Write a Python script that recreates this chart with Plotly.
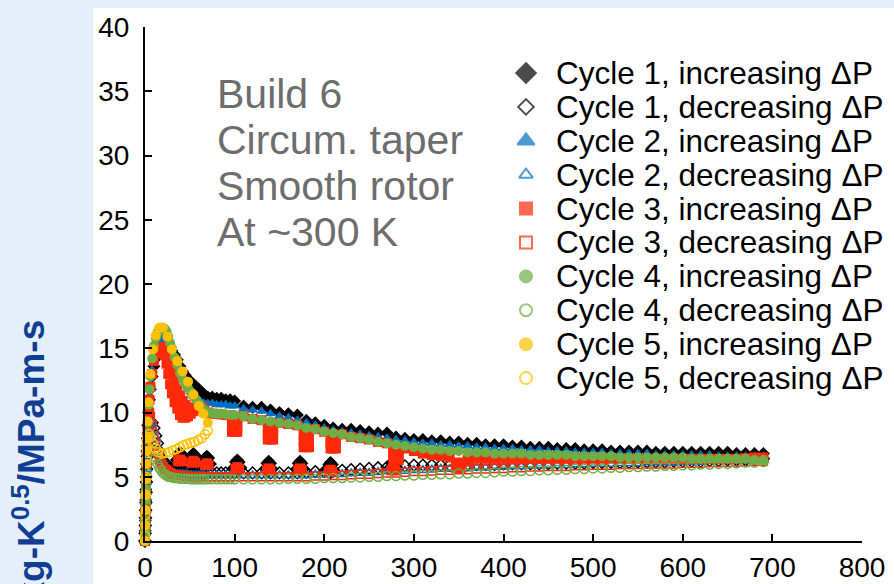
import plotly.graph_objects as go

# ---------------- data ----------------
X_RISE = [0, 0.2, 0.4, 0.6, 0.8, 1.0, 1.3, 1.6, 2.0, 2.5,
          3, 4, 5, 6, 8, 10, 12, 14, 16, 18,
          20, 22, 24, 26, 28, 30, 33, 36, 39, 42,
          45, 48, 51, 54, 57, 60, 63, 66, 70, 75,
          80, 85, 90, 95]
X_TAIL = [100, 110, 120, 130, 140, 150, 160, 170, 180, 190,
          200, 210, 220, 230, 240, 250, 260, 270, 280, 290,
          300, 310, 320, 330, 340, 350, 360, 370, 380, 390,
          400, 410, 420, 430, 440, 450, 460, 470, 480, 490,
          500, 510, 520, 530, 540, 550, 560, 570, 580, 590,
          600, 610, 620, 630, 640, 650, 660, 670, 680, 690]

# Cycle 1
C1_INC_RISE = [0, 0.8, 1.6, 2.4, 3.2, 4.0, 5.0, 6.0, 7.0, 8.0,
               9.0, 10.0, 11.0, 11.8, 12.8, 13.6, 14.2, 14.7, 15.0, 15.2,
               15.4, 15.4, 15.3, 15.2, 15.0, 14.8, 14.5, 14.1, 13.6, 13.2,
               12.9, 12.6, 12.4, 12.2, 12.0, 11.8, 11.6, 11.4, 11.2, 11.2,
               11.1, 11.1, 11.0, 11.0]
C1_INC_TAIL = [10.9, 10.5, 10.4, 10.4, 10.2, 10.0, 9.9, 9.8, 9.4, 9.2,
               9.0, 8.8, 8.7, 8.7, 8.6, 8.5, 8.4, 8.4, 8.1, 8.0,
               7.9, 7.9, 7.8, 7.8, 7.7, 7.7, 7.6, 7.6, 7.5, 7.5,
               7.5, 7.4, 7.4, 7.3, 7.3, 7.3, 7.2, 7.2, 7.2, 7.1,
               7.1, 7.1, 7.0, 7.0, 7.0, 7.0, 7.0, 6.9, 6.9, 6.9,
               6.9, 6.9, 6.9, 6.9, 6.9, 6.9, 6.8, 6.8, 6.8, 6.8]
C1_BUMP_X = [35, 37, 39, 41, 43, 39, 50, 52, 54, 56, 58, 54,
             65, 67, 69, 71, 73, 69, 99, 101, 103, 105, 107, 103,
             134, 136, 138, 140, 142, 138, 169, 171, 173, 175, 177, 173,
             203, 205, 207, 209, 211, 207, 273, 275, 277, 279, 281, 277]
C1_BUMP_Y = [6.3, 6.75, 6.9, 6.75, 6.3, 6.1, 6.2, 6.65, 6.8, 6.65, 6.2, 6.0,
             6.0, 6.45, 6.6, 6.45, 6.0, 5.8, 5.7, 6.15, 6.3, 6.15, 5.7, 5.5,
             5.6, 6.05, 6.2, 6.05, 5.6, 5.4, 5.6, 6.05, 6.2, 6.05, 5.6, 5.4,
             5.5, 5.95, 6.1, 5.95, 5.5, 5.3, 5.7, 6.05, 6.2, 6.05, 5.7, 5.6]
C1_DEC_RISE = [0, 0.6, 1.2, 1.8, 2.4, 3.0, 3.8, 4.6, 5.6, 6.6,
               7.4, 8.4, 9.0, 9.3, 9.2, 8.8, 8.2, 7.6, 7.0, 6.6,
               6.3, 6.1, 5.9, 5.8, 5.7, 5.6, 5.5, 5.5, 5.4, 5.4,
               5.4, 5.4, 5.3, 5.3, 5.3, 5.3, 5.3, 5.3, 5.3, 5.3,
               5.3, 5.3, 5.3, 5.3]
C1_DEC_TAIL = [5.3, 5.3, 5.3, 5.3, 5.3, 5.3, 5.3, 5.3, 5.35, 5.4,
               5.4, 5.45, 5.5, 5.55, 5.6, 5.65, 5.7, 5.75, 5.8, 5.85,
               5.9, 5.9, 5.9, 5.9, 5.9, 5.9, 5.95, 5.95, 5.95, 5.95,
               6.0, 6.0, 6.0, 6.0, 6.0, 6.0, 6.05, 6.05, 6.05, 6.05,
               6.1, 6.1, 6.1, 6.1, 6.1, 6.15, 6.15, 6.15, 6.15, 6.2,
               6.2, 6.2, 6.2, 6.25, 6.25, 6.3, 6.3, 6.3, 6.35, 6.4]

# Cycle 2
C2_INC_RISE = [0, 0.8, 1.6, 2.4, 3.2, 4.0, 5.0, 6.0, 7.0, 8.0,
               9.0, 10.2, 11.3, 12.2, 13.3, 14.2, 14.8, 15.3, 15.6, 15.8,
               15.8, 15.8, 15.6, 15.3, 15.0, 14.6, 14.1, 13.6, 13.1, 12.6,
               12.2, 11.9, 11.6, 11.3, 11.1, 10.9, 10.8, 10.7, 10.7, 10.7,
               10.6, 10.6, 10.6, 10.5]
C2_INC_TAIL = [10.5, 10.3, 10.2, 10.1, 9.9, 9.7, 9.6, 9.4, 9.2, 9.0,
               8.8, 8.6, 8.5, 8.4, 8.3, 8.2, 8.1, 8.0, 7.9, 7.8,
               7.7, 7.6, 7.6, 7.5, 7.5, 7.4, 7.4, 7.3, 7.3, 7.2,
               7.2, 7.2, 7.1, 7.1, 7.1, 7.0, 7.0, 7.0, 6.9, 6.9,
               6.9, 6.9, 6.8, 6.8, 6.8, 6.8, 6.8, 6.7, 6.7, 6.7,
               6.7, 6.7, 6.7, 6.7, 6.6, 6.6, 6.6, 6.6, 6.6, 6.6]
C2_DEC_RISE = [0, 0.6, 1.2, 1.8, 2.4, 3.0, 3.8, 4.6, 5.6, 6.6,
               7.6, 8.6, 9.2, 9.4, 9.2, 8.6, 8.0, 7.3, 6.7, 6.3,
               6.0, 5.8, 5.6, 5.5, 5.4, 5.3, 5.25, 5.2, 5.2, 5.2,
               5.15, 5.15, 5.1, 5.1, 5.1, 5.1, 5.1, 5.1, 5.1, 5.1,
               5.1, 5.1, 5.1, 5.1]
C2_DEC_TAIL = [5.1, 5.1, 5.1, 5.1, 5.1, 5.1, 5.1, 5.1, 5.1, 5.15,
               5.15, 5.2, 5.2, 5.25, 5.3, 5.3, 5.35, 5.4, 5.4, 5.45,
               5.5, 5.5, 5.55, 5.6, 5.6, 5.65, 5.65, 5.7, 5.7, 5.75,
               5.75, 5.8, 5.8, 5.85, 5.85, 5.9, 5.9, 5.9, 5.95, 5.95,
               6.0, 6.0, 6.0, 6.05, 6.05, 6.05, 6.1, 6.1, 6.1, 6.1,
               6.15, 6.15, 6.15, 6.2, 6.2, 6.2, 6.25, 6.25, 6.3, 6.3]

# Cycle 3
C3_INC_RISE = [0, 0.8, 1.6, 2.4, 3.2, 4.0, 5.0, 6.0, 7.0, 8.0,
               9.0, 10.0, 11.0, 12.0, 13.0, 14.0, 14.6, 15.0, 15.1, 15.1,
               15.0, 14.5, 13.8, 13.0, 12.2, 11.5, 10.8, 10.3, 9.8, 9.6,
               9.6, 9.7, 9.9, 10.1, 10.3, 10.4, 10.4, 10.2, 10.0, 9.9,
               9.9, 9.85, 9.8, 9.8]
C3_INC_TAIL = [8.5, 9.7, 9.5, 9.4, 7.9, 9.2, 9.1, 9.0, 7.3, 8.7,
               8.5, 7.2, 8.3, 8.1, 8.0, 7.9, 7.7, 7.6, 6.3, 7.2,
               7.0, 6.8, 6.7, 6.6, 6.5, 5.7, 6.3, 6.4, 6.4, 6.4,
               6.4, 6.4, 6.4, 6.4, 6.4, 6.4, 6.4, 6.4, 6.4, 6.4,
               6.4, 6.4, 6.4, 6.4, 6.4, 6.4, 6.4, 6.4, 6.4, 6.4,
               6.4, 6.4, 6.4, 6.4, 6.4, 6.4, 6.4, 6.45, 6.5, 6.5]
C3_EXTRA_X = [26, 28, 30, 33, 36, 39, 42, 45, 48, 51, 33, 36, 39, 42,
              97, 100, 103, 97, 100, 103, 97, 103,
              137, 140, 143, 137, 140, 143, 137, 143,
              177, 180, 183, 177, 180, 183, 177, 183,
              207, 210, 213, 207, 210, 213, 207, 213,
              277, 280, 283, 277, 280, 283, 277, 283,
              347, 353, 347, 353,
              37, 39, 41, 52, 54, 56, 67, 69, 71, 101, 103, 105,
              136, 138, 140, 171, 173, 175, 205, 207, 209, 275, 277, 279]
C3_EXTRA_Y = [14.2, 13.6, 13.0, 12.4, 11.8, 11.3, 10.9, 10.6, 10.4, 10.3, 11.6, 11.0, 10.5, 10.2,
              9.3, 9.3, 9.3, 8.9, 8.9, 8.9, 8.5, 8.5,
              8.8, 8.8, 8.8, 8.3, 8.3, 8.3, 7.9, 7.9,
              8.3, 8.3, 8.3, 7.8, 7.8, 7.8, 7.3, 7.3,
              8.0, 8.0, 8.0, 7.6, 7.6, 7.6, 7.2, 7.2,
              7.1, 7.1, 7.1, 6.7, 6.7, 6.7, 6.3, 6.3,
              6.1, 6.1, 5.7, 5.7,
              6.2, 6.35, 6.2, 6.1, 6.25, 6.1, 5.9, 6.05, 5.9, 5.6, 5.75, 5.6,
              5.5, 5.65, 5.5, 5.5, 5.65, 5.5, 5.4, 5.55, 5.4, 5.5, 5.65, 5.5]
C3_DEC_RISE = [0, 0.8, 1.6, 2.4, 3.2, 4.0, 5.0, 6.0, 7.2, 8.4,
               9.4, 10.0, 10.0, 9.6, 9.0, 8.2, 7.4, 6.8, 6.3, 6.0,
               5.8, 5.6, 5.5, 5.4, 5.3, 5.2, 5.15, 5.1, 5.1, 5.1,
               5.05, 5.05, 5.0, 5.0, 5.0, 5.0, 5.0, 5.0, 5.0, 5.0,
               5.0, 5.0, 5.0, 5.0]
C3_DEC_TAIL = [5.0, 5.0, 5.0, 5.0, 5.0, 5.0, 5.0, 5.0, 5.0, 5.05,
               5.05, 5.1, 5.1, 5.15, 5.2, 5.2, 5.25, 5.3, 5.3, 5.35,
               5.4, 5.4, 5.45, 5.5, 5.5, 5.55, 5.55, 5.6, 5.6, 5.65,
               5.65, 5.7, 5.7, 5.75, 5.75, 5.8, 5.8, 5.8, 5.85, 5.85,
               5.9, 5.9, 5.9, 5.95, 5.95, 5.95, 6.0, 6.0, 6.0, 6.0,
               6.05, 6.05, 6.05, 6.1, 6.1, 6.1, 6.15, 6.15, 6.2, 6.2]

# Cycle 4
C4_INC_RISE = [0, 0.8, 1.6, 2.4, 3.2, 4.0, 5.0, 6.0, 7.0, 8.0,
               9.2, 10.6, 11.8, 12.8, 14.2, 15.2, 15.8, 16.2, 16.5, 16.6,
               16.6, 16.5, 16.3, 15.9, 15.4, 15.0, 14.3, 13.7, 13.1, 12.6,
               12.2, 11.9, 11.6, 11.3, 11.0, 10.7, 10.4, 10.2, 10.0, 9.95,
               9.9, 9.9, 9.85, 9.8]
C4_INC_TAIL = [9.8, 9.7, 9.5, 9.4, 9.3, 9.2, 9.1, 9.0, 8.8, 8.7,
               8.5, 8.4, 8.3, 8.1, 8.0, 7.9, 7.7, 7.6, 7.5, 7.4,
               7.3, 7.2, 7.1, 7.1, 7.0, 7.0, 6.9, 6.9, 6.9, 6.8,
               6.8, 6.8, 6.8, 6.7, 6.7, 6.7, 6.7, 6.7, 6.6, 6.6,
               6.6, 6.6, 6.6, 6.5, 6.5, 6.5, 6.5, 6.5, 6.5, 6.5,
               6.5, 6.4, 6.4, 6.4, 6.4, 6.4, 6.4, 6.4, 6.3, 6.3]
C4_DEC_RISE = [0, 0.7, 1.4, 2.1, 2.8, 3.5, 4.4, 5.3, 6.3, 7.3,
               8.0, 8.4, 8.3, 8.1, 7.6, 7.0, 6.5, 6.0, 5.7, 5.5,
               5.3, 5.2, 5.1, 5.0, 5.0, 4.95, 4.9, 4.9, 4.85, 4.85,
               4.85, 4.85, 4.8, 4.8, 4.8, 4.8, 4.8, 4.8, 4.8, 4.8,
               4.8, 4.8, 4.8, 4.8]
C4_DEC_TAIL = [4.8, 4.8, 4.8, 4.8, 4.8, 4.8, 4.85, 4.85, 4.85, 4.85,
               4.9, 4.9, 4.9, 4.95, 4.95, 5.0, 5.0, 5.05, 5.05, 5.1,
               5.1, 5.15, 5.15, 5.2, 5.2, 5.25, 5.25, 5.3, 5.3, 5.35,
               5.4, 5.4, 5.45, 5.45, 5.5, 5.5, 5.55, 5.55, 5.6, 5.6,
               5.65, 5.65, 5.7, 5.7, 5.75, 5.75, 5.8, 5.8, 5.85, 5.85,
               5.9, 5.9, 5.95, 5.95, 6.0, 6.0, 6.05, 6.1, 6.1, 6.15]

# Cycle 5 (short cycle, up to ~70)
C5_INC_X = [0, 0.3, 0.6, 0.9, 1.2, 1.6, 2.0, 2.5, 3, 4,
            6, 9, 12, 16, 20, 25, 30, 36, 42, 48,
            54, 60, 65, 70]
C5_INC_Y = [0, 1.2, 2.4, 3.6, 4.8, 6.0, 7.0, 8.0, 9.3, 10.8,
            13.0, 14.9, 16.0, 16.6, 16.6, 15.9, 14.9, 14.0, 13.2, 12.4,
            11.4, 10.5, 9.9, 9.2]
C5_DEC_X = [70, 67, 63, 59, 55, 51, 47, 43, 39, 35,
            31, 27, 23, 19, 15, 12, 9, 6, 4, 2.5,
            1.8, 1.3, 0.9, 0.5, 0.2, 0]
C5_DEC_Y = [8.6, 8.3, 8.0, 7.85, 7.7, 7.65, 7.55, 7.45, 7.3, 7.15,
            7.05, 6.9, 6.85, 6.8, 6.9, 7.2, 7.6, 8.1, 8.3, 8.1,
            7.4, 6.3, 5.0, 3.6, 2.0, 0.4]

LEGEND_LABELS = ["Cycle 1, increasing ΔP", "Cycle 1, decreasing ΔP",
                 "Cycle 2, increasing ΔP", "Cycle 2, decreasing ΔP",
                 "Cycle 3, increasing ΔP", "Cycle 3, decreasing ΔP",
                 "Cycle 4, increasing ΔP", "Cycle 4, decreasing ΔP",
                 "Cycle 5, increasing ΔP", "Cycle 5, decreasing ΔP"]
NOTE_LINES = ["Build 6", "Circum. taper", "Smooth rotor", "At ~300 K"]
X_TICKS = [0, 100, 200, 300, 400, 500, 600, 700, 800]
Y_TICKS = [0, 5, 10, 15, 20, 25, 30, 35, 40]

# ---------------- styles ----------------
BLACK, BLUE, RED, GREEN, ORANGE = "#000000", "#0070c0", "#ff2a0a", "#70ad47", "#ffc000"
FONT = "Liberation Sans, Arial, sans-serif"

series = [
    (X_RISE + X_TAIL + C1_BUMP_X, C1_INC_RISE + C1_INC_TAIL + C1_BUMP_Y, "diamond", BLACK, 10),
    (X_RISE + X_TAIL, C1_DEC_RISE + C1_DEC_TAIL, "diamond-open", BLACK, 9),
    (X_RISE + X_TAIL, C2_INC_RISE + C2_INC_TAIL, "triangle-up", BLUE, 10),
    (X_RISE + X_TAIL, C2_DEC_RISE + C2_DEC_TAIL, "triangle-up-open", BLUE, 9),
    (X_RISE + X_TAIL + C3_EXTRA_X, C3_INC_RISE + C3_INC_TAIL + C3_EXTRA_Y, "square", RED, 10),
    (X_RISE + X_TAIL, C3_DEC_RISE + C3_DEC_TAIL, "square-open", RED, 8),
    (X_RISE + X_TAIL, C4_INC_RISE + C4_INC_TAIL, "circle", GREEN, 10),
    (X_RISE + X_TAIL, C4_DEC_RISE + C4_DEC_TAIL, "circle-open", GREEN, 9),
    (C5_INC_X, C5_INC_Y, "circle", ORANGE, 10),
    (C5_DEC_X, C5_DEC_Y, "circle-open", ORANGE, 9),
]

fig = go.Figure()
for (xs, ys, sym, col, sz), name in zip(series, LEGEND_LABELS):
    fig.add_trace(go.Scatter(
        x=xs, y=ys, mode="markers", name=name, cliponaxis=False,
        marker=dict(symbol=sym, color=col, size=sz,
                    line=dict(width=1.5 if "open" in sym else 0, color=col)),
        showlegend=False))

# ---------------- hand-placed legend (rows of key + label) ----------------
PLOT_L, PLOT_W, PLOT_B, PLOT_H = 145, 717, 541, 514
LEG_TOP, LEG_STEP = 73, 33.9
key_sizes = [15, 12, 15, 12, 12, 12, 12, 12, 12, 12]
rows_y = [(PLOT_B - (LEG_TOP + LEG_STEP * i)) / PLOT_H for i in range(len(LEGEND_LABELS))]
fig.add_trace(go.Scatter(
    x=[(526 - PLOT_L) / PLOT_W] * len(LEGEND_LABELS), y=rows_y,
    xaxis="x2", yaxis="y2", mode="markers", showlegend=False, hoverinfo="skip",
    cliponaxis=False,
    marker=dict(symbol=[s[2] for s in series], color=[s[3] for s in series],
                size=key_sizes, line=dict(width=2, color=[s[3] for s in series]))))

annotations = []
for lab, yy in zip(LEGEND_LABELS, rows_y):
    annotations.append(dict(text=lab, xref="paper", yref="paper",
                            x=(554 - PLOT_L) / PLOT_W, y=yy, xanchor="left", yanchor="middle",
                            showarrow=False, font=dict(family=FONT, size=31.5, color="#000000")))

NOTE_TOP, NOTE_STEP = 94, 46
for i, line in enumerate(NOTE_LINES):
    annotations.append(dict(text=line, xref="paper", yref="paper",
                            x=(215 - PLOT_L) / PLOT_W,
                            y=(PLOT_B - (NOTE_TOP + NOTE_STEP * i)) / PLOT_H,
                            xanchor="left", yanchor="middle", align="left", showarrow=False,
                            font=dict(family=FONT, size=41, color="#6d6d6d")))

annotations.append(dict(text="kg-K<sup>0.5</sup>/MPa-m-s", xref="paper", yref="paper",
                        x=(29 - PLOT_L) / PLOT_W, y=(PLOT_B - 318) / PLOT_H,
                        xanchor="center", yanchor="top", textangle=-90, showarrow=False,
                        font=dict(family=FONT, size=37, color="#103e93", weight="bold")))

shapes = [dict(type="rect", xref="paper", yref="paper", layer="below",
               x0=(93 - PLOT_L) / PLOT_W, x1=1.1, y0=-0.2, y1=(PLOT_B - 8) / PLOT_H,
               fillcolor="white", line=dict(width=0))]

axis_common = dict(showline=True, linecolor="black", linewidth=2, ticks="inside",
                   ticklen=7, tickwidth=1.5, tickcolor="black", showgrid=False,
                   zeroline=False, automargin=False,
                   tickfont=dict(family=FONT, size=28, color="black"))

fig.update_layout(
    width=894, height=584,
    margin=dict(l=145, r=32, t=27, b=43, autoexpand=False),
    paper_bgcolor="#e5eff9", plot_bgcolor="white",
    showlegend=False,
    xaxis=dict(range=[0, 800], tickvals=X_TICKS, ticklabelstandoff=0, **axis_common),
    yaxis=dict(range=[0, 40], tickvals=Y_TICKS, ticklabelstandoff=8, **axis_common),
    xaxis2=dict(overlaying="x", range=[0, 1], visible=False),
    yaxis2=dict(overlaying="y", range=[0, 1], visible=False),
    annotations=annotations, shapes=shapes,
    font=dict(family=FONT),
)

fig.write_html("out.html")
